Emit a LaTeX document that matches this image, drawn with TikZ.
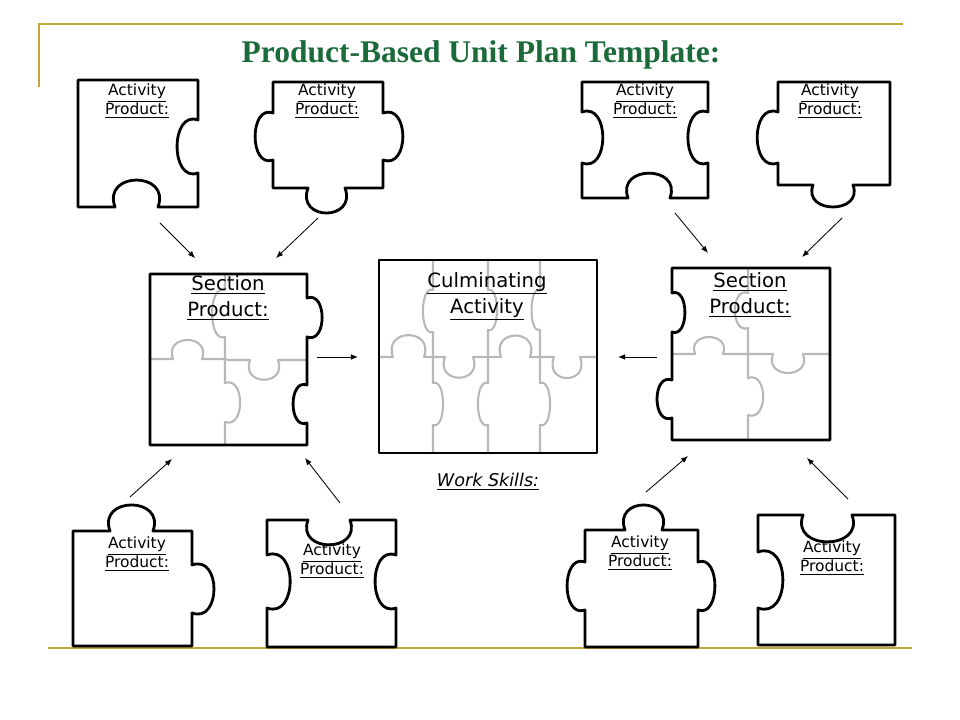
\documentclass[tikz,border=0pt]{standalone}
\usepackage{fontspec}
\setmainfont{DejaVu Sans}
\newfontfamily\titlefont{Liberation Serif}
\usepackage{tikz}
\usetikzlibrary{arrows.meta, calc}
\definecolor{titlegreen}{HTML}{1B6B3A}
\definecolor{rulegold}{HTML}{C4A53A}

\tikzset{
  piece/.style={draw, line width=2pt, line join=round},
  seam/.style={draw=black!28, line width=1.5pt, line join=round},
  knobout/.style={to path={.. controls ($(\tikztostart)!#1!110:(\tikztotarget)$) and ($(\tikztotarget)!#1!-110:(\tikztostart)$) .. (\tikztotarget)}},
  knobin/.style={to path={.. controls ($(\tikztostart)!#1!-110:(\tikztotarget)$) and ($(\tikztotarget)!#1!110:(\tikztostart)$) .. (\tikztotarget)}},
  cardtext/.style={font=\fontsize{11}{13.5}\selectfont, align=center, inner sep=0pt},
  bigtext/.style={font=\fontsize{14}{18.5}\selectfont, align=center, inner sep=0pt},
  flow/.style={-{Latex[length=5pt, width=4pt]}, line width=0.6pt}
}

\begin{document}
\begin{tikzpicture}[x=0.025cm, y=-0.025cm]
    \useasboundingbox (0,0) rectangle (960,720);

    \draw[rulegold, line width=1.4pt] (39,87) -- (39,24) -- (903,24);
    \draw[rulegold, line width=1.4pt] (48,648) -- (912,648);
    \node[anchor=base, text=titlegreen, font=\titlefont\bfseries\fontsize{22.4}{26}\selectfont] (title) at (481,63) {Product-Based Unit Plan Template:};

    % top row
    \draw[piece] (78,80) -- (198,80) -- (198,120) to[knobin=0.56] (198,173) -- (198,207) -- (158,207) to[knobin=0.89] (115,207) -- (78,207) -- cycle;
    \draw[piece] (273,82) -- (383,82) -- (383,113) to[knobout=0.6] (383,160) -- (383,188) -- (345,188) to[knobout=0.96] (308,188) -- (273,188) -- (273,160) to[knobout=0.54] (273,113) -- cycle;
    \draw[piece] (582,82) -- (708,82) -- (708,112) to[knobin=0.56] (708,163) -- (708,198) -- (670,198) to[knobin=0.84] (628,198) -- (582,198) -- (582,163) to[knobin=0.58] (582,112) -- cycle;
    \draw[piece] (778,82) -- (890,82) -- (890,185) -- (853,185) to[knobout=0.78] (813,185) -- (778,185) -- (778,163) to[knobout=0.58] (778,112) -- cycle;
    \node[cardtext] (act1) at (137,101) {\underline{Activity}\\\underline{Product:}};
    \node[cardtext] (act2) at (327,101) {\underline{Activity}\\\underline{Product:}};
    \node[cardtext] (act3) at (645,101) {\underline{Activity}\\\underline{Product:}};
    \node[cardtext] (act4) at (830,101) {\underline{Activity}\\\underline{Product:}};

    % left section
    \draw[seam] (150,359) -- (173,359) to[knobout=0.93] (202,359) -- (227,359);
    \draw[seam] (227,360) -- (250,360) to[knobin=1.0] (278,360) -- (307,360);
    \draw[seam] (225,274) -- (225,290) to[knobin=0.39] (225,337) -- (225,360);
    \draw[seam] (225,360) -- (225,383) to[knobout=0.55] (225,422) -- (225,445);
    \draw[piece] (150,274) -- (307,274) -- (307,298) to[knobout=0.55] (307,337) -- (307,385) to[knobin=0.52] (307,423) -- (307,445) -- (150,445) -- cycle;
    \node[bigtext] (sec1) at (228,298) {\underline{Section}\\\underline{Product:}};

    % culminating activity
    \draw[seam] (379,357) -- (393,357) to[knobout=1.0] (424,357) -- (445,357) to[knobin=1.05] (473,357) -- (501,357) to[knobout=1.05] (530,357) -- (554,357) to[knobin=1.15] (580,357) -- (597,357);
    \draw[seam] (433,260) -- (433,290) to[knobin=0.34] (433,332) -- (433,383) to[knobout=0.34] (433,425) -- (433,453);
    \draw[seam] (488,260) -- (488,290) to[knobout=0.32] (488,330) -- (488,383) to[knobin=0.34] (488,425) -- (488,453);
    \draw[seam] (540,260) -- (540,290) to[knobin=0.3] (540,330) -- (540,383) to[knobout=0.34] (540,425) -- (540,453);
    \draw[piece] (379,260) rectangle (597,453);
    \node[bigtext] (cul) at (487,296) {\underline{Culminating}\\\underline{Activity}};
    \node[anchor=base, font=\fontsize{12.5}{15}\selectfont\itshape] (skills) at (488,487) {\underline{Work Skills:}};

    % right section
    \draw[seam] (672,354) -- (695,354) to[knobout=0.86] (723,354) -- (748,354);
    \draw[seam] (748,354) -- (773,354) to[knobin=0.9] (803,354) -- (830,354);
    \draw[seam] (748,268) -- (748,293) to[knobin=0.53] (748,328) -- (748,354);
    \draw[seam] (748,354) -- (748,378) to[knobout=0.58] (748,415) -- (748,440);
    \draw[piece] (672,268) -- (830,268) -- (830,440) -- (672,440) -- (672,418) to[knobout=0.56] (672,380) -- (672,332) to[knobin=0.47] (672,293) -- cycle;
    \node[bigtext] (sec2) at (750,295) {\underline{Section}\\\underline{Product:}};

    % bottom row
    \draw[piece] (73,531) -- (110,531) to[knobout=0.86] (153,531) -- (192,531) -- (192,565) to[knobout=0.65] (192,613) -- (192,646) -- (73,646) -- cycle;
    \draw[piece] (267,520) -- (308,520) to[knobin=0.84] (350,520) -- (396,520) -- (396,555) to[knobin=0.56] (396,608) -- (396,647) -- (267,647) -- (267,608) to[knobin=0.62] (267,555) -- cycle;
    \draw[piece] (585,530) -- (625,530) to[knobout=0.96] (662,530) -- (698,530) -- (698,562) to[knobout=0.5] (698,610) -- (698,647) -- (585,647) -- (585,610) to[knobout=0.53] (585,562) -- cycle;
    \draw[piece] (758,515) -- (803,515) to[knobin=0.78] (852,515) -- (895,515) -- (895,645) -- (758,645) -- (758,608) to[knobin=0.63] (758,552) -- cycle;
    \node[cardtext] (act5) at (137,554) {\underline{Activity}\\\underline{Product:}};
    \node[cardtext] (act6) at (332,561) {\underline{Activity}\\\underline{Product:}};
    \node[cardtext] (act7) at (640,553) {\underline{Activity}\\\underline{Product:}};
    \node[cardtext] (act8) at (832,558) {\underline{Activity}\\\underline{Product:}};

    % arrows
    \coordinate (f1) at (160,223); \coordinate (t1) at (195,258);
    \coordinate (f2) at (318,218); \coordinate (t2) at (276,258);
    \coordinate (f3) at (675,213); \coordinate (t3) at (708,253);
    \coordinate (f4) at (842,218); \coordinate (t4) at (802,257);
    \coordinate (f5) at (130,497); \coordinate (t5) at (172,459);
    \coordinate (f6) at (340,503); \coordinate (t6) at (305,458);
    \coordinate (f7) at (646,492); \coordinate (t7) at (688,456);
    \coordinate (f8) at (848,499); \coordinate (t8) at (807,458);
    \coordinate (fl) at (317,357); \coordinate (tl) at (358,357);
    \coordinate (fr) at (657,357); \coordinate (tr) at (618,357);
    \draw[flow] (f1) -- (t1);
    \draw[flow] (f2) -- (t2);
    \draw[flow] (f3) -- (t3);
    \draw[flow] (f4) -- (t4);
    \draw[flow] (f5) -- (t5);
    \draw[flow] (f6) -- (t6);
    \draw[flow] (f7) -- (t7);
    \draw[flow] (f8) -- (t8);
    \draw[flow] (fl) -- (tl);
    \draw[flow] (fr) -- (tr);
\end{tikzpicture}
\end{document}
